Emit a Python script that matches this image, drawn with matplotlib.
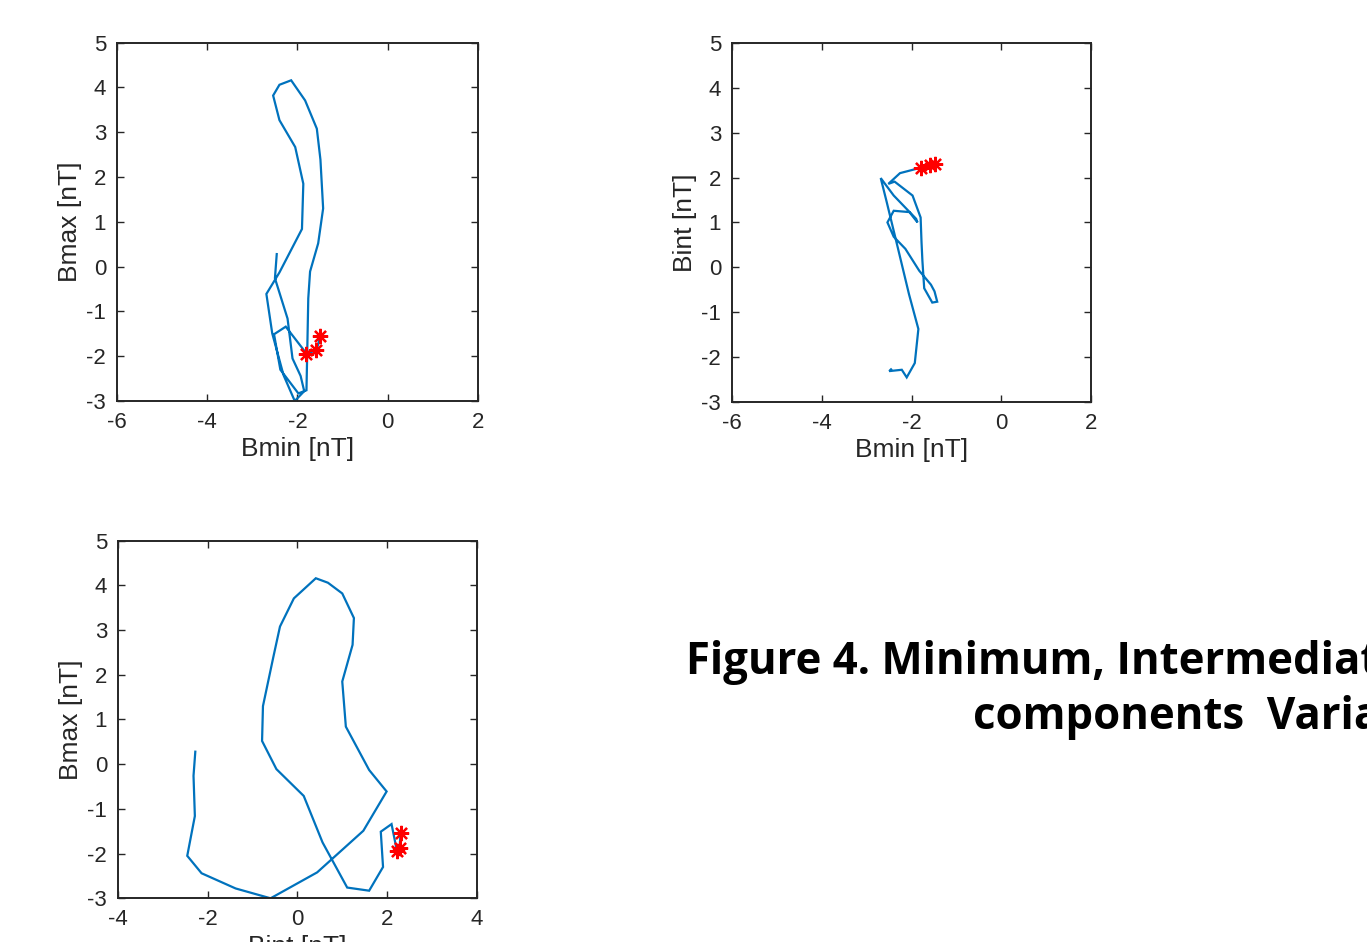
import matplotlib
matplotlib.use("Agg")
import matplotlib.pyplot as plt

# minimum variance components, one sample per point (nT)
bmin = [-2.46, -2.50, -2.22, -2.11, -1.93, -1.85, -2.06, -2.31, -2.56, -2.69,
        -2.40, -1.90, -1.87, -2.05, -2.40, -2.54, -2.40, -2.14, -1.83, -1.57,
        -1.49, -1.43, -1.54, -1.72, -1.76, -1.78, -1.80, -1.98, -2.38, -2.52,
        -2.26, -1.80, -1.58, -1.49]
bint = [-2.28, -2.32, -2.29, -2.46, -2.14, -1.38, -0.60, 0.44, 1.47, 1.99,
        1.60, 1.08, 1.00, 1.23, 1.26, 1.00, 0.68, 0.41, -0.08, -0.39,
        -0.54, -0.77, -0.79, -0.47, 0.14, 0.56, 1.11, 1.60, 1.91, 1.86,
        2.10, 2.22, 2.28, 2.30]
bmax = [0.28, -0.26, -1.16, -2.05, -2.44, -2.78, -3.00, -2.42, -1.49, -0.61,
        -0.13, 0.84, 1.85, 2.67, 3.27, 3.82, 4.06, 4.16, 3.71, 3.08,
        2.39, 1.30, 0.52, -0.11, -0.71, -1.75, -2.76, -2.83, -2.30, -1.51,
        -1.34, -1.94, -1.87, -1.55]
n_star = 3  # last samples marked in red

panels = [
    (bmin, bmax, "Bmin [nT]", "Bmax [nT]", (-6, 2)),
    (bmin, bint, "Bmin [nT]", "Bint [nT]", (-6, 2)),
    (bint, bmax, "Bint [nT]", "Bmax [nT]", (-4, 4)),
]
# axes boxes in figure fractions
boxes = [
    [0.0858, 0.5743, 0.2636, 0.3804],
    [0.5357, 0.5737, 0.2624, 0.3804],
    [0.0865, 0.0464, 0.2622, 0.3796],
]

plt.rcParams['font.family'] = ['Liberation Sans', 'DejaVu Sans']
plt.rcParams['axes.unicode_minus'] = False

fig = plt.figure(figsize=(13.67, 9.42), dpi=100)

for (xs, ys, xl, yl, xlim), box in zip(panels, boxes):
    ax = fig.add_axes(box)
    ax.plot(xs, ys, color='#0072BD', lw=1.6, solid_joinstyle='miter')
    ax.plot(xs[-n_star:], ys[-n_star:], linestyle='none', marker=(8, 2, 0),
            color='red', markersize=11, markeredgewidth=1.6)
    ax.set_xlim(xlim)
    ax.set_ylim(-3, 5)
    ax.set_xticks(range(xlim[0], xlim[1] + 1, 2))
    ax.set_yticks(range(-3, 6))
    ax.tick_params(direction='in', length=5, width=1, top=True, right=True,
                   labelsize=16, colors='#262626', pad=8)
    for sp in ax.spines.values():
        sp.set_linewidth(1.4)
        sp.set_color('#262626')
    ax.set_xlabel(xl, fontsize=19, color='#262626', labelpad=3)
    ax.set_ylabel(yl, fontsize=19, color='#262626', labelpad=3)

cap = dict(family=['Open Sans', 'DejaVu Sans'], fontweight='bold', fontsize=31.5,
           color='black')
fig.text(686 / 1367, 1 - 674 / 942, "Figure 4. Minimum, Intermediate and Maximum",
         ha='left', va='baseline', **cap)
fig.text(973 / 1367, 1 - 729 / 942, "components  Variations",
         ha='left', va='baseline', **cap)

fig.savefig("out.png", dpi=100)
